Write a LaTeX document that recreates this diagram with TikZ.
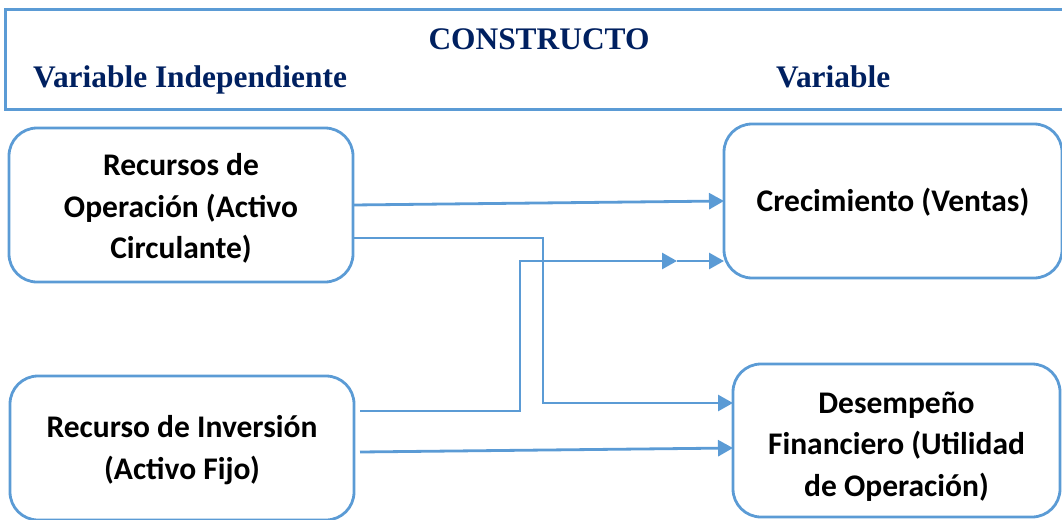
\documentclass[tikz,border=0pt]{standalone}
\usepackage{fontspec}
\setmainfont{Liberation Serif}
\newfontfamily\boxfont{Carlito}
\usetikzlibrary{arrows.meta}
\definecolor{lineblue}{RGB}{91,155,213}
\definecolor{navy}{RGB}{0,32,96}
\newcommand{\lowtext}[2]{\raisebox{0pt}[\dimexpr\height+#1*2\relax][\depth]{\begin{tabular}{@{}c@{}}#2\end{tabular}}}
\tikzset{
  vbox/.style={draw=lineblue, line width=2.8pt, rounded corners=28pt, inner sep=0pt, outer sep=0pt,
    align=center, font=\boxfont\bfseries\fontsize{31.5}{41.5}\selectfont, text=black},
  arr/.style={draw=lineblue, line width=2.8pt, -{Triangle[length=15pt,width=16pt]}},
  head/.style={font=\bfseries\fontsize{31.4}{36}\selectfont, text=navy, inner sep=0pt}
}
\begin{document}
\begin{tikzpicture}[x=1pt,y=-1pt]
\useasboundingbox (0,0) rectangle (1062,519);
\begin{scope}
\clip (0,0) rectangle (1062,519);
% header
\draw[draw=lineblue, line width=3pt] (1080,9.5) -- (5,9.5) -- (5,109.5) -- (1080,109.5);
\node[head, anchor=base] (cons) at (539,50) {CONSTRUCTO};
\node[head, anchor=base west] (vi) at (33,88) {Variable Independiente};
\node[head, anchor=base west] (vd) at (776,88) {Variable};
% boxes
\node[vbox, minimum width=344pt, minimum height=154pt] (b1) at (181,205) {\lowtext{4pt}{Recursos de\\Operación (Activo\\Circulante)}};
\node[vbox, minimum width=338pt, minimum height=154pt] (b2) at (893,201) {\lowtext{2pt}{Crecimiento (Ventas)}};
\node[vbox, minimum width=344pt, minimum height=144pt] (b3) at (182,448) {\lowtext{2pt}{Recurso de Inversión\\(Activo Fijo)}};
\node[vbox, minimum width=327pt, minimum height=153pt] (b4) at (896.5,440.5) {\lowtext{6pt}{Desempeño\\Financiero (Utilidad\\de Operación)}};
% connectors
\draw[arr] (b1.east) -- (b2.west);
\draw[arr] ([yshift=-33pt]b1.east) -- ++(190,0) |- ([yshift=37.5pt]b4.west);
\coordinate (mid) at (677,261);
\draw[arr] ([xshift=6pt,yshift=37pt]b3.east) -- ++(160,0) |- (mid);
\draw[arr] (mid) -- ([yshift=-60pt]b2.west);
\draw[arr] ([xshift=6pt,yshift=-4pt]b3.east) -- ([yshift=-7.5pt]b4.west);
\end{scope}
\end{tikzpicture}
\end{document}
